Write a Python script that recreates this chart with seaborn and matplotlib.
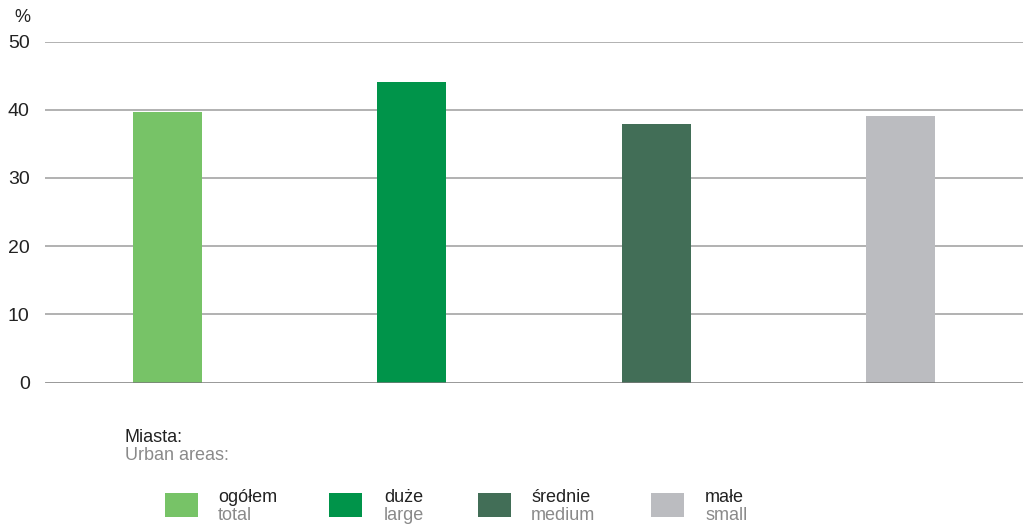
import matplotlib
matplotlib.use("Agg")
import matplotlib.pyplot as plt
from matplotlib.patches import Rectangle
import seaborn as sns
import pandas as pd

# Share of respondents by urban-area size (%)
categories_pl = ["ogółem", "duże", "średnie", "małe"]
categories_en = ["total", "large", "medium", "small"]
values = [39.7, 44.1, 37.9, 39.1]
colors = ["#77C367", "#00944A", "#426E57", "#BBBCC0"]
yticks = [0, 10, 20, 30, 40, 50]

df = pd.DataFrame({"cat": categories_pl, "val": values})

sns.set_theme(style="white")
plt.rcParams["font.family"] = ["Liberation Sans", "DejaVu Sans"]

fig = plt.figure(figsize=(10.23, 5.24), dpi=100)
ax = fig.add_axes([45 / 1023, 1 - 382.5 / 524, 1 - 45 / 1023, 341 / 524])

sns.barplot(data=df, x="cat", y="val", hue="cat", palette=colors,
            order=categories_pl, hue_order=categories_pl,
            width=0.283, legend=False, ax=ax, saturation=1)
for p in ax.patches:
    p.set_zorder(2)
    p.set_edgecolor("none")

ax.set_xlim(-0.5, 3.5)
ax.set_ylim(0, 50)
ax.set_yticks(yticks)
ax.set_yticklabels([str(t) for t in yticks], fontsize=14, color="#222222")
ax.set_xticks([])
ax.set_xlabel("")
ax.set_ylabel("")
ax.tick_params(axis="y", length=0, pad=11)
for s in ax.spines.values():
    s.set_visible(False)
for t in yticks[1:]:
    ax.axhline(t, color="#ABABAB", lw=1.3, zorder=0)
ax.axhline(0, color="#7A7A7A", lw=1.8, zorder=3)

fig.text(14 / 1023, 1 - 18 / 524, "%", fontsize=13, color="#222222",
         ha="left", va="center")

# Legend block
fig.text(125 / 1023, 1 - 438 / 524, "Miasta:", fontsize=13,
         color="#222222", ha="left", va="center")
fig.text(125 / 1023, 1 - 456 / 524, "Urban areas:", fontsize=13,
         color="#8A8A8A", ha="left", va="center")

patch_x = [165, 329, 478, 651]
text_x = [218, 384, 531, 705]
for px, tx, pl, en, c in zip(patch_x, text_x, categories_pl, categories_en, colors):
    fig.add_artist(Rectangle((px / 1023, 1 - 517 / 524), 33 / 1023, 24 / 524,
                             transform=fig.transFigure, facecolor=c,
                             edgecolor="none"))
    fig.text(tx / 1023, 1 - 497 / 524, pl, fontsize=13, color="#222222",
             ha="left", va="center")
    fig.text(tx / 1023, 1 - 515 / 524, en, fontsize=13, color="#8A8A8A",
             ha="left", va="center")

fig.savefig("out.png", dpi=100)
